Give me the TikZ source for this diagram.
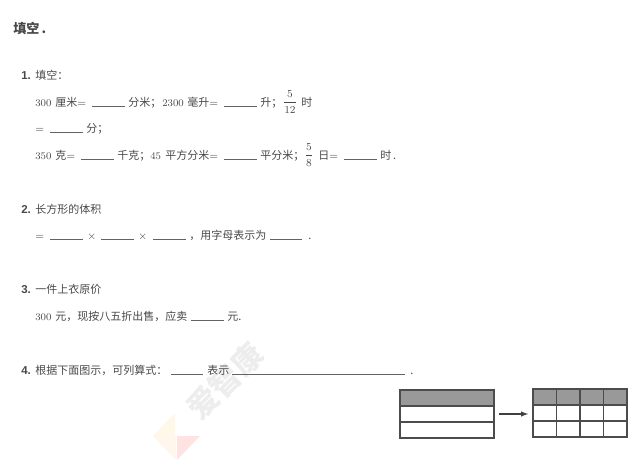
\documentclass[tikz,border=0pt]{standalone}
\usepackage{amsmath}
\usepackage{fontspec}
\usetikzlibrary{matrix}
\newfontfamily\cjk{Noto Sans CJK SC}
\newfontfamily\numsf{Liberation Sans}
\definecolor{inktext}{HTML}{484848}
\definecolor{headgray}{HTML}{999999}
\newcommand{\fwc}{\symbol{"FF0C}}
\newcommand{\fws}{\symbol{"FF1B}}
\newcommand{\fwk}{\symbol{"FF1A}}

\begin{document}
\begin{tikzpicture}[x=.75pt,y=-.75pt,
            txt/.style={anchor=base west,inner sep=0pt,text=inktext,font=\fontsize{7.6}{10}\selectfont},
            zh/.style={txt,font=\cjk\fontsize{8.25}{10}\selectfont},
            num/.style={txt,font=\numsf\bfseries\fontsize{8.6}{10}\selectfont},
            frc/.style={anchor=center,inner sep=0pt,text=inktext,font=\fontsize{8.2}{10}\selectfont},
            blank/.style={draw=inktext!85,line width=.55pt},
            cell/.style={draw=black!70,line width=.85pt,inner sep=0pt,outer sep=0pt,minimum height=12pt},
            row 1/.style={nodes={fill=headgray}}]
            \useasboundingbox (0,0) rectangle (643,471);

            % watermark
            \fill[yellow!40!orange!8] (175,413) -- (153,436) -- (175,436) -- cycle;
            \fill[orange!7] (153,436) -- (176,436) -- (176,460) -- cycle;
            \fill[red!11] (177,436) -- (200,436) -- (177,460) -- cycle;
            \node[rotate=45,inner sep=0pt,text=black!7,font=\cjk\bfseries\fontsize{23}{25}\selectfont] (mark) at (225,381) {爱智康};

            \node[zh,font=\cjk\bfseries\fontsize{9.8}{12}\selectfont] (title) at (13,33) {填空\,.};

            % question 1
            \node[num] (q1) at (21,79) {1.};
            \node[zh] (q1t) at (35,79) {填空\fwk};
            \node[txt] (a1) at (35,106) {300};
            \node[zh] (a2) at (55,106) {厘米$=$};
            \node[zh] (a3) at (128,106) {分米\fws};
            \node[txt] (a4) at (162,106) {2300};
            \node[zh] (a5) at (187,106) {毫升$=$};
            \node[zh] (a6) at (260,106) {升\fws};
            \node[frc] (a7) at (290,102) {$\dfrac{5}{12}$};
            \node[zh] (a8) at (301,106) {时};
            \node[zh] (b1) at (35,132) {$=$};
            \node[zh] (b2) at (86,132) {分\fws};
            \node[txt] (c1) at (35,159) {350};
            \node[zh] (c2) at (55,159) {克$=$};
            \node[zh] (c3) at (117,159) {千克\fws};
            \node[txt] (c4) at (150,159) {45};
            \node[zh] (c5) at (165,159) {平方分米$=$};
            \node[zh] (c6) at (260,159) {平分米\fws};
            \node[frc] (c7) at (309,155) {$\dfrac{5}{8}$};
            \node[zh] (c8) at (318,159) {日$=$};
            \node[zh] (c9) at (380,159) {时\,.};

            % question 2
            \node[num] (q2) at (21,213) {2.};
            \node[zh] (q2t) at (35,213) {长方形的体积};
            \node[zh] (d1) at (35,239) {$=$};
            \node[zh] (d2) at (87,239) {$\times$};
            \node[zh] (d3) at (138,239) {$\times$};
            \node[zh] (d4) at (189,239) {\fwc 用字母表示为};
            \node[zh] (d5) at (308,239) {.};

            % question 3
            \node[num] (q3) at (21,293) {3.};
            \node[zh] (q3t) at (35,293) {一件上衣原价};
            \node[txt] (e1) at (35,320) {300};
            \node[zh] (e2) at (55,320) {元\fwc 现按八五折出售\fwc 应卖};
            \node[zh] (e3) at (227,320) {元.};

            % question 4
            \node[num] (q4) at (21,374) {4.};
            \node[zh] (q4t) at (35,374) {根据下面图示\fwc 可列算式\fwk};
            \node[zh] (f1) at (207,374) {表示};
            \node[zh] (f2) at (410,374) {.};

            \foreach \x/\y/\len in {92/106/33,224/106/33,50/132/33,81/159/33,224/159/33,344/159/33,
                50/239/33,101/239/33,153/239/33,270/239/32,191/320/33,171/374/32,232/374/173}
                \draw[blank] (\x,\y) -- ++(\len,0);

            \matrix (wholetab) at (447,414) [matrix of nodes,
                nodes in empty cells,
                inner sep=0pt,
                row sep=-.85pt,
                nodes={cell,minimum width=70.5pt}
            ]
            {
                \\
                \\
                \\
            };
            \matrix (parttab) at (580,413) [matrix of nodes,
                nodes in empty cells,
                inner sep=0pt,
                row sep=-.85pt,column sep=-.85pt,
                nodes={cell,minimum width=17.625pt}
            ]
            {
                & & & \\
                & & & \\
                & & & \\
            };

            \draw[-latex,color=black!75,line width=.85pt,shorten <=3pt,shorten >=3pt] (wholetab.east) -- (wholetab.east -| parttab.west);
        \end{tikzpicture}
\end{document}
